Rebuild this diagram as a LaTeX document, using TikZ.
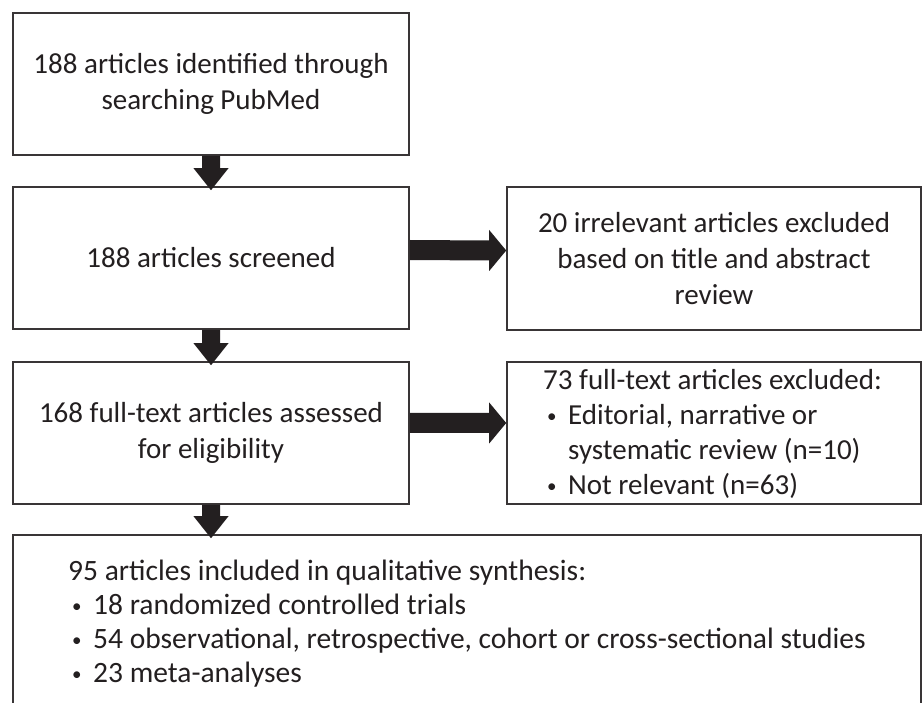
\documentclass[tikz,border=0pt]{standalone}
\usepackage{fontspec}
\setmainfont{Carlito}
\usetikzlibrary{calc}
\definecolor{ink}{HTML}{231F20}
\newcommand\varrow[2]{%
  \fill[ink] ($(#1)+(-9,0)$) -- ($(#2)+(-9,-18)$) -- ($(#2)+(-17.5,-18)$) -- ($(#2)+(0,4)$)
    -- ($(#2)+(17.5,-18)$) -- ($(#2)+(9,-18)$) -- ($(#1)+(9,0)$) -- cycle;}
\newcommand\harrow[3]{%
  \fill[ink] ($(#1.east)+(0,#3-10)$) -- ($(#2.west)+(-17,#3-10)$) -- ($(#2.west)+(-17,#3-20.5)$)
    -- ($(#2.west)+(0,#3)$) -- ($(#2.west)+(-17,#3+20.5)$) -- ($(#2.west)+(-17,#3+10)$)
    -- ($(#1.east)+(0,#3+10)$) -- cycle;}
\newcommand\bul{\makebox[25pt][l]{\hspace{4pt}{\fontsize{19}{19}\selectfont\raisebox{2.5pt}{•}}}}
\begin{document}
\begin{tikzpicture}[x=1pt,y=-1pt,
  box/.style={draw=ink!90, line width=1.6pt, inner sep=0pt, align=center,
    font=\fontsize{29}{36}\selectfont, text=ink},
  lbox/.style={draw=ink!90, line width=1.6pt, inner sep=0pt},
  ltext/.style={inner sep=0pt, align=left, anchor=west, text=ink}]
\useasboundingbox (0,0) rectangle (922,703);
\clip (0,0) rectangle (922,703);
\fill[white] (0,0) rectangle (922,703);
\node[box, minimum width=396pt, minimum height=142pt] (b1) at (211,84)
  {188 articles identified through\\searching PubMed};
\node[box, minimum width=396pt, minimum height=142pt] (b2) at (211,258)
  {188 articles screened};
\node[box, minimum width=414pt, minimum height=143pt] (b3) at (714,258.5)
  {20 irrelevant articles excluded\\based on title and abstract\\review};
\node[box, minimum width=396pt, minimum height=142pt] (b4) at (211,433)
  {168 full-text articles assessed\\for eligibility};
\node[lbox, minimum width=414pt, minimum height=142pt] (b5) at (714,433) {};
\node[ltext, font=\fontsize{29}{35}\selectfont] (t5) at (543,434)
  {73 full-text articles excluded:\\
   \bul Editorial, narrative or\\
   \hspace{25pt}systematic review (n=10)\\
   \bul Not relevant (n=63)};
\node[lbox, minimum width=908pt, minimum height=180pt] (b6) at (467,625) {};
\node[ltext, font=\fontsize{29.5}{34}\selectfont] (t6) at (68,624)
  {95 articles included in qualitative synthesis:\\
   \bul 18 randomized controlled trials\\
   \bul 54 observational, retrospective, cohort or cross-sectional studies\\
   \bul 23 meta-analyses};
\coordinate (b6in) at (b4.south |- b6.north);
\varrow{b1.south}{b2.north}
\varrow{b2.south}{b4.north}
\varrow{b4.south}{b6in}
\harrow{b2}{b3}{-8}
\harrow{b4}{b5}{-10}
\end{tikzpicture}
\end{document}
